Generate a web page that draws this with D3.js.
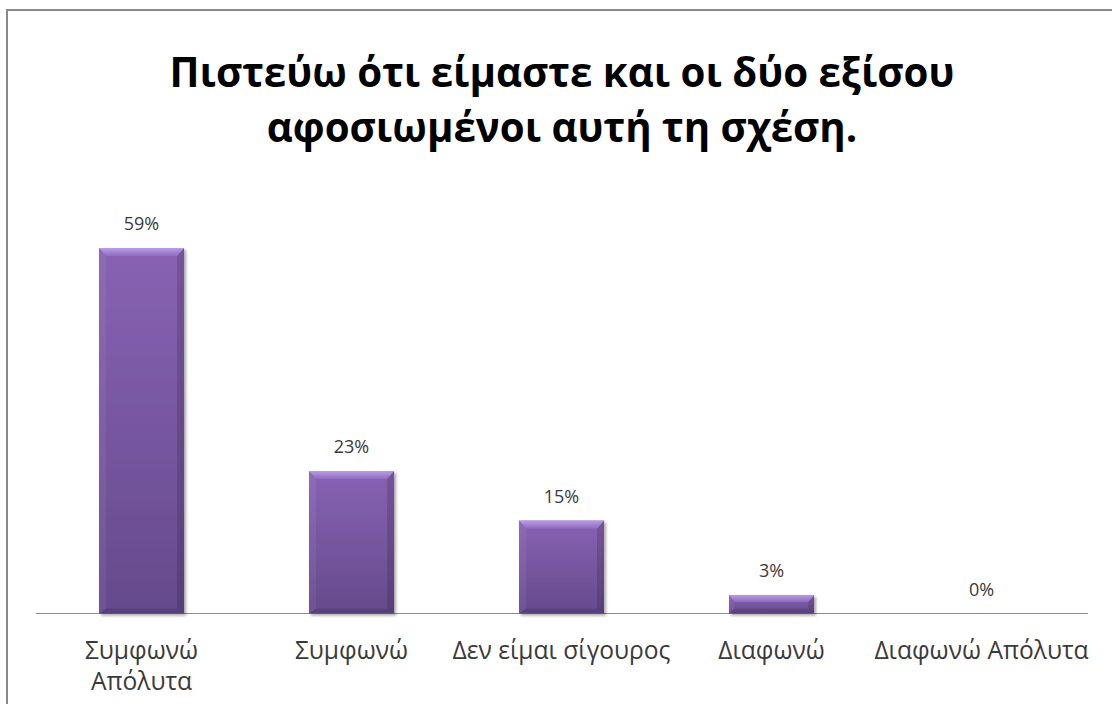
<!DOCTYPE html>
<html>
<head>
<meta charset="utf-8">
<script src="https://cdn.jsdelivr.net/npm/d3@7/dist/d3.min.js"></script>
<style>
  html, body { margin: 0; padding: 0; background: #fff; }
  svg { display: block; }
</style>
</head>
<body>
<svg id="chart" width="1112" height="704"></svg>
<script>
// Survey answers and the share of respondents for each
const titleLines = ["Πιστεύω ότι είμαστε και οι δύο εξίσου", "αφοσιωμένοι αυτή τη σχέση."];
const categories = ["Συμφωνώ\nΑπόλυτα", "Συμφωνώ", "Δεν είμαι σίγουρος", "Διαφωνώ", "Διαφωνώ Απόλυτα"];
const values = [0.59, 0.23, 0.15, 0.03, 0.00];

const W = 1112, H = 704;
const svg = d3.select("#chart");
const FONT = "'Open Sans', 'Noto Sans', 'DejaVu Sans', sans-serif";
const TEXT = "#3a3a3a";

// fit a text element's font size to a target width
function fitWidth(sel, target) {
  const n = sel.node();
  const w = n.getComputedTextLength();
  const fs = parseFloat(sel.attr("font-size"));
  sel.attr("font-size", (fs * target / w).toFixed(2));
}

const defs = svg.append("defs");

const bodyGrad = defs.append("linearGradient").attr("id", "barBody")
  .attr("x1", 0).attr("y1", 0).attr("x2", 0).attr("y2", 1);
bodyGrad.append("stop").attr("offset", "0%").attr("stop-color", "#8862b3");
bodyGrad.append("stop").attr("offset", "100%").attr("stop-color", "#654a8c");

const topGrad = defs.append("linearGradient").attr("id", "barTop")
  .attr("x1", 0).attr("y1", 0).attr("x2", 0).attr("y2", 1);
topGrad.append("stop").attr("offset", "0%").attr("stop-color", "#b99ce2");
topGrad.append("stop").attr("offset", "100%").attr("stop-color", "#8e6bbf");

const shadow = defs.append("filter").attr("id", "barShadow")
  .attr("x", "-10%").attr("y", "-10%").attr("width", "130%").attr("height", "130%");
shadow.append("feGaussianBlur").attr("in", "SourceAlpha").attr("stdDeviation", 1.8).attr("result", "b");
shadow.append("feOffset").attr("in", "b").attr("dx", 2).attr("dy", 2).attr("result", "o");
shadow.append("feComponentTransfer").attr("in", "o").attr("result", "s")
  .append("feFuncA").attr("type", "linear").attr("slope", 0.35);
const merge = shadow.append("feMerge");
merge.append("feMergeNode").attr("in", "s");
merge.append("feMergeNode").attr("in", "SourceGraphic");

// outer frame (left and top edges visible)
svg.append("rect")
  .attr("x", 7).attr("y", 10).attr("width", 1300).attr("height", 900)
  .attr("fill", "none").attr("stroke", "#8a8a8a").attr("stroke-width", 2);

// title
const title = svg.append("g").attr("font-family", FONT).attr("font-weight", 700)
  .attr("fill", "#000").attr("text-anchor", "middle");
const t1 = title.append("text").attr("x", 562).attr("y", 87).attr("font-size", 36).text(titleLines[0]);
fitWidth(t1, 785);
const fs = t1.attr("font-size");
title.append("text").attr("x", 562).attr("y", 142).attr("font-size", fs).text(titleLines[1]);

// scales
const x = d3.scaleBand().domain(categories)
  .range([36.5, 1086.5]).paddingInner(0.595).paddingOuter(0.2976);
const y = d3.scaleLinear().domain([0, 0.7]).range([613.5, 180]);

// category axis
const axis = svg.append("g").attr("transform", `translate(0,${y(0)})`)
  .call(d3.axisBottom(x).tickSize(0).tickSizeOuter(0).tickFormat(() => ""));
axis.select(".domain").attr("stroke", "#8c8c8c").attr("stroke-width", 1.2)
  .attr("d", "M36,0H1088");

// category labels, possibly two lines
const catG = svg.append("g").attr("font-family", FONT).attr("fill", TEXT)
  .attr("text-anchor", "middle");
const catFont = (() => {
  const probe = catG.append("text").attr("font-size", 18).text("Δεν είμαι σίγουρος");
  fitWidth(probe, 218);
  const f = probe.attr("font-size");
  probe.remove();
  return f;
})();
categories.forEach(c => {
  const lines = c.split("\n");
  const t = catG.append("text").attr("font-size", catFont)
    .attr("x", x(c) + x.bandwidth() / 2).attr("y", 659);
  lines.forEach((ln, i) => {
    t.append("tspan").attr("x", x(c) + x.bandwidth() / 2)
      .attr("dy", i === 0 ? 0 : 31).text(ln);
  });
});

// bars with bevelled faces
const pct = d3.format(".0%");
const bars = svg.append("g");
values.forEach((v, i) => {
  if (v <= 0) return;
  const x0 = x(categories[i]), x1 = x0 + x.bandwidth();
  const y0 = y(v), y1 = y(0);
  const h = y1 - y0;
  const bt = Math.min(8, h * 0.38), bs = Math.min(7, h * 0.3), bb = Math.min(5, h * 0.25);
  const g = bars.append("g").attr("filter", "url(#barShadow)");
  g.append("rect").attr("x", x0).attr("y", y0).attr("width", x1 - x0).attr("height", h)
    .attr("fill", "url(#barBody)");
  const poly = pts => pts.map(p => p.join(",")).join(" ");
  // left face
  g.append("polygon").attr("points", poly([[x0, y0], [x0 + bs, y0 + bt], [x0 + bs, y1 - bb], [x0, y1]]))
    .attr("fill", "#ffffff").attr("fill-opacity", 0.06);
  // right face
  g.append("polygon").attr("points", poly([[x1, y0], [x1 - bs, y0 + bt], [x1 - bs, y1 - bb], [x1, y1]]))
    .attr("fill", "#000000").attr("fill-opacity", 0.14);
  // bottom face
  g.append("polygon").attr("points", poly([[x0, y1], [x0 + bs, y1 - bb], [x1 - bs, y1 - bb], [x1, y1]]))
    .attr("fill", "#000000").attr("fill-opacity", 0.12);
  // top face
  g.append("polygon").attr("points", poly([[x0, y0], [x1, y0], [x1 - bs, y0 + bt], [x0 + bs, y0 + bt]]))
    .attr("fill", "url(#barTop)");
});

// value labels
const valG = svg.append("g").attr("font-family", FONT).attr("fill", TEXT)
  .attr("text-anchor", "middle").attr("font-size", 18);
values.forEach((v, i) => {
  valG.append("text")
    .attr("x", x(categories[i]) + x.bandwidth() / 2)
    .attr("y", y(v) - 18)
    .text(pct(v));
});
</script>
</body>
</html>
